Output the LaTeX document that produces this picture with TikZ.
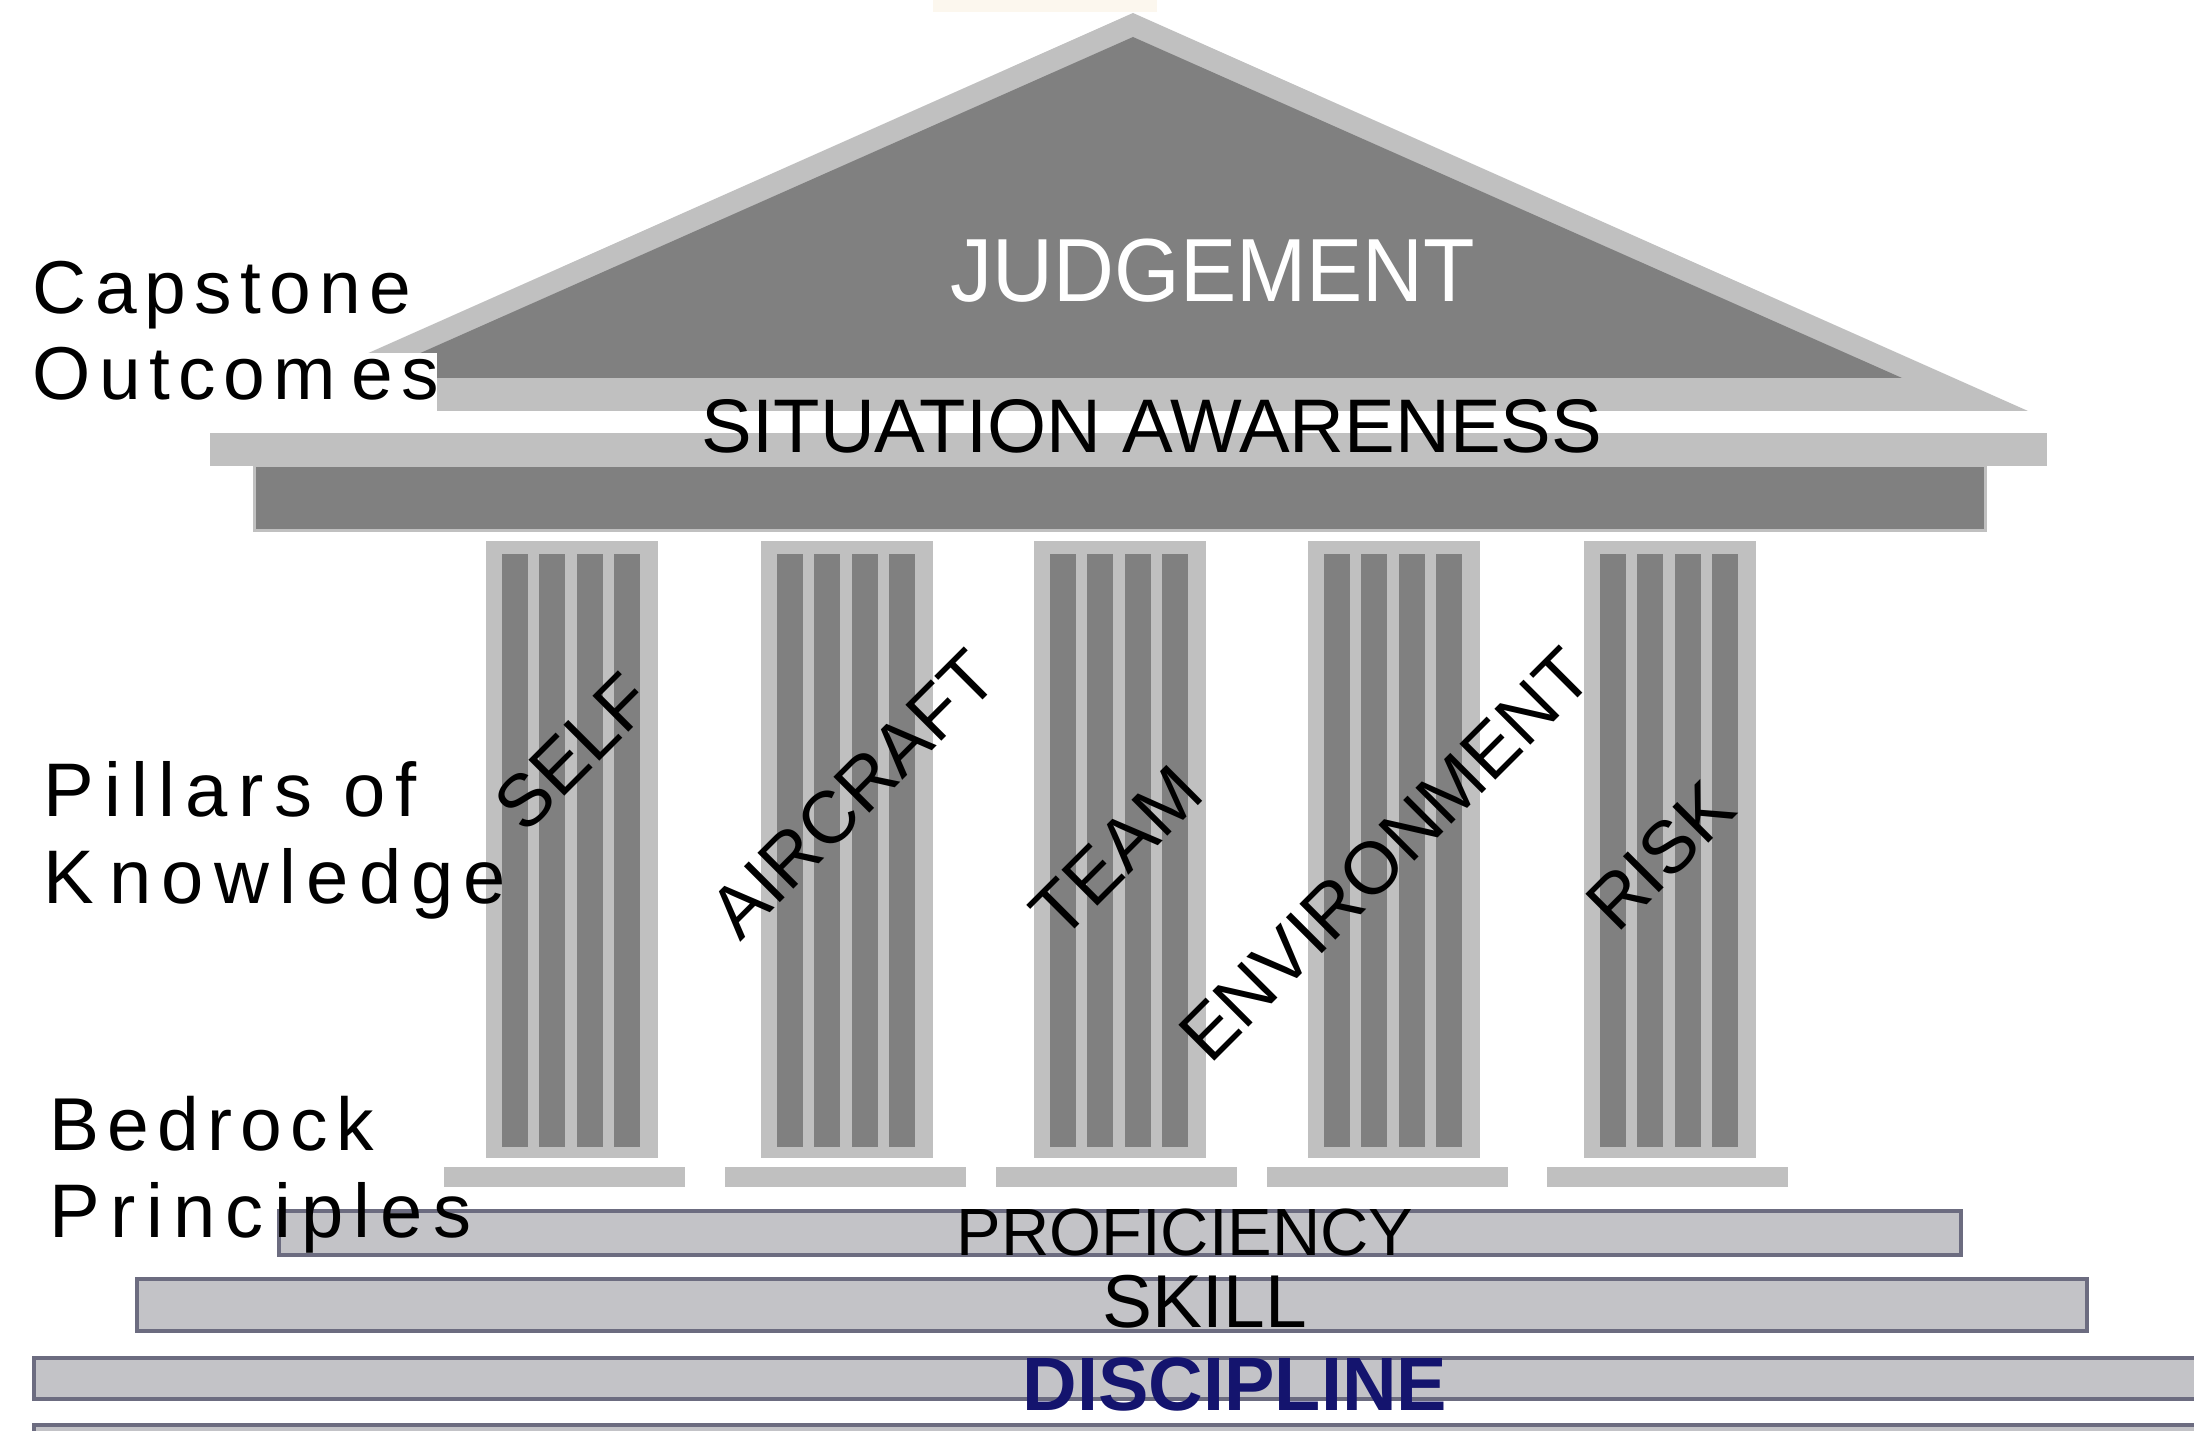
\documentclass[tikz,border=0pt]{standalone}
\usepackage{fontspec}
\setmainfont{Liberation Sans}
\newfontfamily\spacedsans[LetterSpace=11]{Liberation Sans}
\newfontfamily\widesans[LetterSpace=13.5]{Liberation Sans}

\definecolor{stonedark}{HTML}{808080}
\definecolor{stonelight}{HTML}{C0C0C0}
\definecolor{slabfill}{HTML}{C3C3C7}
\definecolor{slabedge}{HTML}{6C6C80}
\definecolor{navyink}{HTML}{14146E}
\definecolor{parchment}{HTML}{FCF7EE}

\newcommand{\fsz}[1]{\fontsize{#1}{#1}\selectfont}

\tikzset{
  darkstone/.style={fill=stonedark},
  lightstone/.style={fill=stonelight},
  slab/.style={fill=slabfill, draw=slabedge, line width=0.04cm},
  sidelabel/.style={anchor=base west, inner sep=0pt, font=\spacedsans\fsz{21.3pt}},
  widelabel/.style={anchor=base west, inner sep=0pt, font=\widesans\fsz{21.6pt}},
  pillarlabel/.style={inner sep=0pt, rotate=45, font=\fsz{21pt}},
  slablabel/.style={anchor=base, inner sep=0pt}
}

\begin{document}
\begin{tikzpicture}[x=0.01cm, y=-0.01cm]
  \useasboundingbox (0,0) rectangle (2194,1431);
  \fill[white] (0,0) rectangle (2194,1431);
  \fill[parchment] (933,0) rectangle (1157,12);

  % pediment
  \fill[lightstone] (238,411) -- (1133,13) -- (2028,411) -- cycle;
  \fill[darkstone] (364,378) -- (1133,37) -- (1902,378) -- cycle;
  % white backing of the upper side label
  \fill[white] (20,353) rectangle (437,411);

  % cornice and architrave
  \fill[lightstone] (210,433) rectangle (2047,466);
  \fill[darkstone, draw=stonelight, line width=0.03cm] (254,466) rectangle (1985,531);

  % fluted pillars
  \foreach \px in {486,761,1034,1308,1584}{
    \fill[lightstone] (\px,541) rectangle ++(172,617);
    \foreach \f in {16,53,91,128}
      \fill[darkstone] (\px+\f,554) rectangle ++(26,593);
  }
  % plinths
  \foreach \bx in {444,725,996,1267,1547}
    \fill[lightstone] (\bx,1167) rectangle ++(241,20);

  % foundation slabs
  \begin{scope}
    \clip (0,0) rectangle (2194,1431);
    \draw[slab] (279,1211) rectangle (1961,1255);
    \draw[slab] (137,1279) rectangle (2087,1331);
    \draw[slab] (34,1358) rectangle (2260,1399);
    \draw[slab] (34,1425) rectangle (2260,1480);
  \end{scope}

  % roof texts
  \node[slablabel, text=white, font=\fsz{25.5pt}, xscale=0.94] (judgement) at (1213,302) {JUDGEMENT};
  \node[slablabel, font=\fsz{21.6pt}] (awareness) at (1152,453) {SITUATION AWARENESS};

  % pillar texts
  \node[pillarlabel] (self) at (573,752) {SELF};
  \node[pillarlabel] (aircraft) at (853,794) {AIRCRAFT};
  \node[pillarlabel] (team) at (1116,852) {TEAM};
  \node[pillarlabel] (environment) at (1385,855) {ENVIRONMENT};
  \node[pillarlabel] (risk) at (1660,856) {RISK};

  % slab texts
  \node[slablabel, font=\fsz{19pt}] (proficiency) at (1185,1255) {PROFICIENCY};
  \node[slablabel, font=\fsz{21.3pt}] (skill) at (1205,1327) {SKILL};
  \node[slablabel, text=navyink, font=\bfseries\fsz{21.5pt}] (discipline) at (1235,1410) {DISCIPLINE};

  % side labels
  \node[sidelabel] (capstone) at (32,314) {Capstone};
  \node[sidelabel] (outcomes) at (32,400) {Outcom\hspace{0.15cm}es};
  \node[widelabel] (pillarsof) at (43,817) {Pillars of};
  \node[widelabel] (knowledge) at (43,903) {K\hspace{0.15cm}nowledge};
  \node[sidelabel] (bedrock) at (49,1150) {Bedrock};
  \node[widelabel] (principles) at (49,1237) {Principles};
\end{tikzpicture}
\end{document}
